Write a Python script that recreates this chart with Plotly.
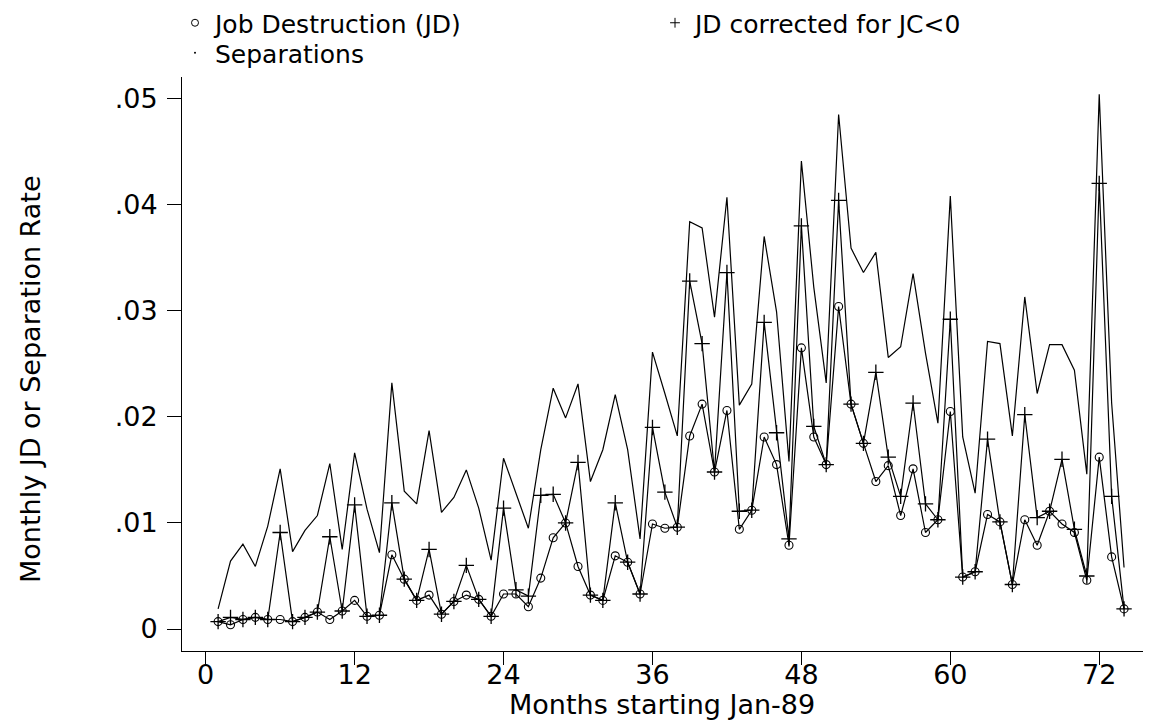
import plotly.graph_objects as go

months = list(range(1, 75))

jd = [0.0007, 0.0004, 0.0009, 0.0011, 0.0009, 0.0009, 0.0007, 0.0011, 0.0016, 0.0009,
      0.0017, 0.0027, 0.0012, 0.0013, 0.0070, 0.0047, 0.0027, 0.0032, 0.0014, 0.0026,
      0.0032, 0.0028, 0.0012, 0.0033, 0.0033, 0.0021, 0.0048, 0.0086, 0.0100, 0.0059,
      0.0032, 0.0027, 0.0069, 0.0063, 0.0033, 0.0099, 0.0095, 0.0096, 0.0182, 0.0212,
      0.0148, 0.0206, 0.0094, 0.0112, 0.0181, 0.0155, 0.0079, 0.0265, 0.0181, 0.0155,
      0.0304, 0.0212, 0.0175, 0.0139, 0.0154, 0.0107, 0.0151, 0.0091, 0.0103, 0.0205,
      0.0049, 0.0054, 0.0108, 0.0101, 0.0042, 0.0103, 0.0079, 0.0111, 0.0099, 0.0091,
      0.0046, 0.0162, 0.0068, 0.0019]

jd_corrected = [0.0007, 0.0011, 0.0009, 0.0011, 0.0009, 0.0091, 0.0007, 0.0011, 0.0016, 0.0087,
                0.0017, 0.0117, 0.0012, 0.0013, 0.0119, 0.0047, 0.0027, 0.0075, 0.0014, 0.0026,
                0.0060, 0.0028, 0.0012, 0.0114, 0.0037, 0.0031, 0.0126, 0.0127, 0.0100, 0.0157,
                0.0032, 0.0027, 0.0119, 0.0063, 0.0033, 0.0190, 0.0129, 0.0096, 0.0328, 0.0269,
                0.0148, 0.0336, 0.0111, 0.0112, 0.0289, 0.0185, 0.0085, 0.0380, 0.0191, 0.0155,
                0.0404, 0.0212, 0.0175, 0.0242, 0.0162, 0.0125, 0.0213, 0.0118, 0.0103, 0.0292,
                0.0049, 0.0054, 0.0179, 0.0101, 0.0042, 0.0202, 0.0105, 0.0111, 0.0160, 0.0094,
                0.0050, 0.0420, 0.0125, 0.0019]

separations = [0.0019, 0.0064, 0.0080, 0.0059, 0.0097, 0.0151, 0.0073, 0.0093, 0.0107, 0.0156,
               0.0075, 0.0166, 0.0113, 0.0072, 0.0232, 0.0130, 0.0118, 0.0187, 0.0110, 0.0124,
               0.0150, 0.0114, 0.0065, 0.0161, 0.0128, 0.0095, 0.0169, 0.0227, 0.0199, 0.0231,
               0.0139, 0.0169, 0.0221, 0.0169, 0.0085, 0.0261, 0.0222, 0.0182, 0.0384, 0.0378,
               0.0294, 0.0407, 0.0211, 0.0231, 0.0370, 0.0299, 0.0158, 0.0441, 0.0322, 0.0232,
               0.0485, 0.0359, 0.0336, 0.0355, 0.0256, 0.0266, 0.0335, 0.0260, 0.0194, 0.0408,
               0.0181, 0.0128, 0.0271, 0.0269, 0.0182, 0.0313, 0.0222, 0.0268, 0.0268, 0.0244,
               0.0146, 0.0504, 0.0213, 0.0058]

x_tick_vals = [0, 12, 24, 36, 48, 60, 72]
y_tick_vals = [0, 0.01, 0.02, 0.03, 0.04, 0.05]
y_tick_text = ["0", ".01", ".02", ".03", ".04", ".05"]

legend_names = ["Job Destruction (JD)", "JD corrected for JC<0", "Separations"]
x_title = "Months starting Jan-89"
y_title = "Monthly JD or Separation Rate"

FONT = "DejaVu Sans, Liberation Sans, Arial, sans-serif"
FS = 27
LFS = 25

fig = go.Figure()

# data traces
fig.add_trace(go.Scatter(
    x=months, y=separations, mode="lines",
    line=dict(color="black", width=1.2), showlegend=False))
fig.add_trace(go.Scatter(
    x=months, y=jd_corrected, mode="lines+markers",
    line=dict(color="black", width=1.2),
    marker=dict(symbol="cross-thin-open", size=11, color="black",
                line=dict(color="black", width=1.3)),
    showlegend=False))
fig.add_trace(go.Scatter(
    x=months, y=jd, mode="lines+markers",
    line=dict(color="black", width=1.2),
    marker=dict(symbol="circle-open", size=8, color="black",
                line=dict(color="black", width=1.1)),
    showlegend=False))

# legend-only entries (markers only, like the reference key)
fig.add_trace(go.Scatter(
    x=[None], y=[None], mode="markers", name=legend_names[0], legend="legend",
    marker=dict(symbol="circle-open", size=7, color="black",
                line=dict(color="black", width=1))))
fig.add_trace(go.Scatter(
    x=[None], y=[None], mode="markers", name=legend_names[1], legend="legend",
    marker=dict(symbol="cross-thin-open", size=7, color="black",
                line=dict(color="black", width=1))))
fig.add_trace(go.Scatter(
    x=[None], y=[None], mode="markers", name=legend_names[2], legend="legend2",
    marker=dict(symbol="circle", size=2, color="black")))

# page body has an 8px default margin, so the figure is 8px smaller
W, H = 1143, 713
ML, MR, MT, MB = 174, 3, 69, 70
plot_w = W - ML - MR
plot_h = H - MT - MB
axis_bottom = H - MB


def px_x(px):
    return (px - ML) / plot_w


def px_y(py):
    return (axis_bottom - py) / plot_h


fig.update_layout(
    width=W, height=H,
    margin=dict(l=ML, r=MR, t=MT, b=MB, pad=0, autoexpand=False),
    paper_bgcolor="white", plot_bgcolor="white",
    font=dict(family=FONT, size=FS, color="black"),
    xaxis=dict(
        range=[-1.91, 75.93], tickmode="array", tickvals=x_tick_vals,
        showgrid=False, zeroline=False, showline=True, linecolor="black",
        linewidth=1, ticks="outside", ticklen=13, tickwidth=1, tickcolor="black",
        ticklabelstandoff=-13, automargin=False,
        tickfont=dict(family=FONT, size=FS, color="black")),
    yaxis=dict(
        range=[-0.00207, 0.05203], tickmode="array", tickvals=y_tick_vals,
        ticktext=y_tick_text,
        showgrid=False, zeroline=False, showline=True, linecolor="black",
        linewidth=1, ticks="outside", ticklen=14, tickwidth=1, tickcolor="black",
        ticklabelstandoff=4, automargin=False,
        tickfont=dict(family=FONT, size=FS, color="black")),
    legend=dict(
        orientation="h", xref="paper", yref="paper",
        x=px_x(167), y=px_y(-8), xanchor="left", yanchor="top",
        entrywidth=435, entrywidthmode="pixels",
        bgcolor="rgba(0,0,0,0)", borderwidth=0,
        font=dict(family=FONT, size=LFS, color="black"),
        itemwidth=30),
    legend2=dict(
        orientation="h", xref="paper", yref="paper",
        x=px_x(167), y=px_y(22), xanchor="left", yanchor="top",
        bgcolor="rgba(0,0,0,0)", borderwidth=0,
        font=dict(family=FONT, size=LFS, color="black"),
        itemwidth=30),
    annotations=[
        dict(text=x_title, xref="paper", yref="paper",
             x=px_x(654), y=px_y(697),
             xanchor="center", yanchor="middle", showarrow=False,
             font=dict(family=FONT, size=FS, color="black")),
        dict(text=y_title, xref="paper", yref="paper",
             x=px_x(22), y=px_y(371),
             xanchor="center", yanchor="middle", textangle=-90, showarrow=False,
             font=dict(family=FONT, size=FS, color="black")),
    ],
)

fig.write_html("out.html")
